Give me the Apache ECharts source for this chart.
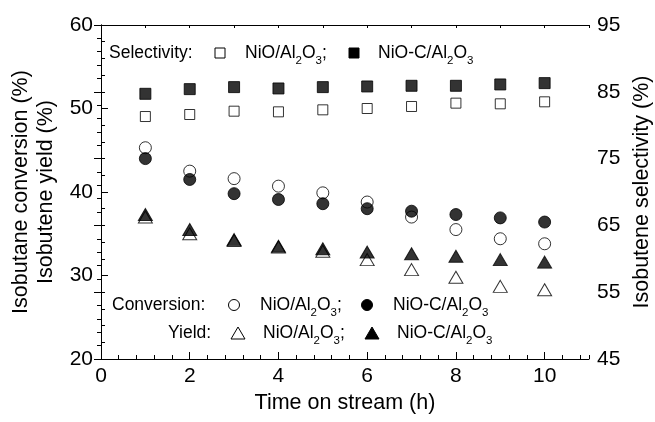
<!DOCTYPE html>
<html>
<head>
<meta charset="utf-8">
<script src="https://cdn.jsdelivr.net/npm/echarts@6/dist/echarts.min.js"></script>
<style>html,body{margin:0;padding:0;background:#fff}#c{width:655px;height:422px}</style>
</head>
<body>
<div id="c"></div>
<script>
const hours = [1, 2, 3, 4, 5, 6, 7, 8, 9, 10];
const selNiO = [81.3, 81.6, 82.1, 82.0, 82.3, 82.5, 82.8, 83.3, 83.2, 83.5];
const selNiOC = [84.7, 85.4, 85.7, 85.5, 85.7, 85.8, 85.9, 85.9, 86.1, 86.3];
const convNiO = [45.3, 42.5, 41.6, 40.7, 39.9, 38.8, 37.0, 35.5, 34.4, 33.8];
const convNiOC = [44.0, 41.5, 39.8, 39.1, 38.6, 38.0, 37.7, 37.3, 36.9, 36.4];
const yieldNiO = [37.0, 35.0, 34.2, 33.4, 32.9, 31.9, 30.7, 29.8, 28.7, 28.3];
const yieldNiOC = [37.3, 35.5, 34.3, 33.5, 33.2, 32.8, 32.6, 32.3, 31.9, 31.6];

const xTitle = 'Time on stream (h)';
const yLeftTitle = ['Isobutane conversion (%)', 'Isobutene yield (%)'];
const yRightTitle = 'Isobutene selectivity (%)';
const groupLabels = ['Selectivity:', 'Conversion:', 'Yield:'];
const catNames = ['NiO/Al{s|2}O{s|3};', 'NiO-C/Al{s|2}O{s|3}'];

const FONT = '"Liberation Sans", Arial, sans-serif';
const FS_TICK = 21;
const FS_TITLE = 21.5;
const FS_LEG = 17.5;
const chart = echarts.init(document.getElementById('c'), null, {renderer: 'canvas'});

const pair = (xs, ys) => xs.map((x, i) => [x, ys[i]]);
const openStyle = {color: '#fff', borderColor: '#000', borderWidth: 1};
const fillStyle = {color: '#000', borderColor: '#000', borderWidth: 1};

function sc(name, data, symbol, size, style, yIdx) {
  return {name, type: 'scatter', xAxisIndex: 0, yAxisIndex: yIdx, data, symbol,
    symbolSize: size, itemStyle: style, silent: true, animation: false};
}

const rich = {s: {fontSize: 11.5, fontFamily: FONT, fill: '#000', lineHeight: 13, padding: [15, 0, 0, 0]}};
function txt(x, y, t) {
  return {type: 'text', x: x, y: y, silent: true,
    style: {text: t, fontSize: FS_LEG, fontFamily: FONT, fill: '#000', lineHeight: 28, rich: rich,
      align: 'left', verticalAlign: 'middle'}};
}
function sym(kind, cx, cy, filled) {
  const fill = filled ? '#000' : '#fff';
  const base = {silent: true, style: {fill, stroke: '#000', lineWidth: 1}};
  if (kind === 'rect') return Object.assign({type: 'rect', shape: {x: cx - 5, y: cy - 5, width: 10, height: 10}}, base);
  if (kind === 'circle') return Object.assign({type: 'circle', shape: {cx, cy, r: 5.5}}, base);
  return Object.assign({type: 'polygon', shape: {points: [[cx, cy - 6], [cx + 7, cy + 6], [cx - 7, cy + 6]]}}, base);
}

const rows = [
  {y: 53, label: groupLabels[0], lx: 109, kind: 'rect', s1: 220, t1: 245, s2: 354, t2: 378},
  {y: 305, label: groupLabels[1], lx: 112, kind: 'circle', s1: 234, t1: 260, s2: 367, t2: 393},
  {y: 333, label: groupLabels[2], lx: 168, kind: 'tri', s1: 238, t1: 263, s2: 372, t2: 397}
];
const graphics = [];
rows.forEach(r => {
  graphics.push(txt(r.lx, r.y, r.label));
  graphics.push(sym(r.kind, r.s1, r.y, false));
  graphics.push(txt(r.t1, r.y, catNames[0]));
  graphics.push(sym(r.kind, r.s2, r.y, true));
  graphics.push(txt(r.t2, r.y, catNames[1]));
});

const axLine = {show: true, lineStyle: {color: '#000', width: 1}};
const lbl = {color: '#000', fontSize: FS_TICK, fontFamily: FONT};
const ttl = {color: '#000', fontSize: FS_TITLE, fontFamily: FONT};

const option = {
  backgroundColor: '#fff',
  animation: false,
  grid: {left: 101, right: 66, top: 25, bottom: 63, containLabel: false, outerBoundsMode: 'none'},
  xAxis: [
    {type: 'value', position: 'bottom', min: 0, max: 11, interval: 2,
      axisLine: axLine, splitLine: {show: false},
      axisTick: {show: true, inside: true, length: 7, lineStyle: {color: '#000'}},
      axisLabel: Object.assign({margin: 7, showMaxLabel: false,
        formatter: v => (v > 10.5 ? '' : String(v))}, lbl),
      name: xTitle, nameLocation: 'middle', nameGap: 31, nameTextStyle: ttl},
    {type: 'value', position: 'top', min: 0, max: 11, interval: 1,
      axisLine: axLine, splitLine: {show: false},
      axisTick: {show: true, inside: true, length: 3, lineStyle: {color: '#000'}},
      axisLabel: {show: false}},
    {type: 'value', position: 'bottom', min: 0, max: 11, interval: 0.4,
      axisLine: {show: false}, splitLine: {show: false},
      axisTick: {show: true, inside: true, length: 4, lineStyle: {color: '#000'}},
      axisLabel: {show: false}}
  ],
  yAxis: [
    {type: 'value', position: 'left', min: 20, max: 60, interval: 10,
      axisLine: axLine, splitLine: {show: false},
      axisTick: {show: true, inside: true, length: 7, lineStyle: {color: '#000'}},
      minorTick: {show: true, splitNumber: 5, length: 4, lineStyle: {color: '#000'}},
      axisLabel: Object.assign({margin: 8}, lbl),
      name: yLeftTitle.join('\n'), nameLocation: 'middle', nameGap: 41,
      nameTextStyle: Object.assign({lineHeight: 25}, ttl)},
    {type: 'value', position: 'right', min: 45, max: 95, interval: 10,
      axisLine: axLine, splitLine: {show: false},
      axisTick: {show: true, inside: true, length: 7, lineStyle: {color: '#000'}},
      minorTick: {show: true, splitNumber: 5, length: 4, lineStyle: {color: '#000'}},
      axisLabel: Object.assign({margin: 8}, lbl),
      name: yRightTitle, nameLocation: 'middle', nameGap: 41, nameTextStyle: ttl}
  ],
  series: [
    sc('selNiO', pair(hours, selNiO), 'rect', 10, openStyle, 1),
    sc('selNiOC', pair(hours, selNiOC), 'rect', 11, fillStyle, 1),
    sc('convNiO', pair(hours, convNiO), 'circle', 12, openStyle, 0),
    sc('convNiOC', pair(hours, convNiOC), 'circle', 12, fillStyle, 0),
    sc('yieldNiO', pair(hours, yieldNiO), 'triangle', [14, 12], openStyle, 0),
    sc('yieldNiOC', pair(hours, yieldNiOC), 'triangle', [14, 12], fillStyle, 0)
  ],
  graphic: graphics
};
chart.setOption(option);
</script>
</body>
</html>
